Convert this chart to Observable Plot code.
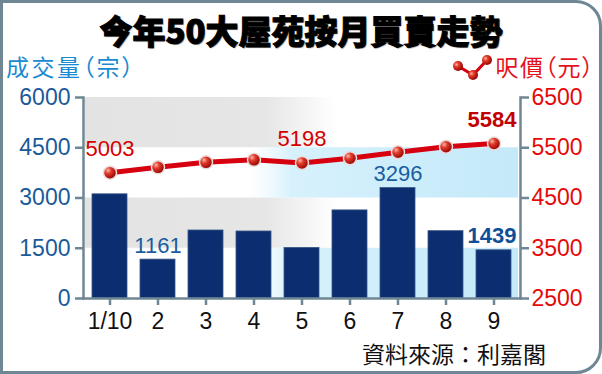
<!DOCTYPE html>
<html><head><meta charset="utf-8">
<script src="https://cdn.jsdelivr.net/npm/d3@7"></script>
<script src="https://cdn.jsdelivr.net/npm/@observablehq/plot@0.6"></script>
<style>
body{margin:0;background:#fff;}
#wrap{position:relative;width:602px;height:374px;overflow:hidden;background:#fff;}
#frame{position:absolute;left:0;top:0;width:602px;height:374px;box-sizing:border-box;border:3px solid #6f8795;border-radius:0 26px 26px 0;pointer-events:none;}
#chart{position:absolute;left:0;top:0;}
.t{position:absolute;white-space:nowrap;}
#title{left:0;width:602px;text-align:center;top:10px;font-family:"Noto Sans CJK TC",sans-serif;font-weight:900;font-size:33px;line-height:40px;color:#000;-webkit-text-stroke:1px #000;text-shadow:1px 1px 1px #999;}
#ly{left:6px;top:51px;font-family:"Noto Sans CJK TC",sans-serif;font-size:23px;line-height:30px;color:#1a8ad2;font-feature-settings:"palt";letter-spacing:2.5px;}
#ry{right:7px;top:51px;font-family:"Noto Sans CJK TC",sans-serif;font-size:23px;line-height:30px;color:#e5121b;font-feature-settings:"palt";letter-spacing:1.5px;}
#icon{position:absolute;left:450px;top:49px;}
#src{left:362px;top:338px;font-family:"Noto Sans CJK TC",sans-serif;font-size:23px;line-height:30px;color:#111;}
</style></head>
<body>
<div id="wrap">
  <div id="chart"></div>
  <div class="t" id="title">今年50大屋苑按月買賣走勢</div>
  <div class="t" id="ly">成交量（宗）</div>
  <svg id="icon" width="45" height="34" viewBox="0 0 45 34">
    <defs><radialGradient id="ib" cx="0.35" cy="0.35" r="0.7"><stop offset="0" stop-color="#ffb4a4"/><stop offset="0.35" stop-color="#e23a2a"/><stop offset="1" stop-color="#8c0000"/></radialGradient></defs>
    <polyline points="8,17 23,26 37,11" fill="none" stroke="#d7000f" stroke-width="3"/>
    <circle cx="8" cy="17" r="5" fill="url(#ib)"/>
    <circle cx="23" cy="26" r="5" fill="url(#ib)"/>
    <circle cx="37" cy="11" r="5" fill="url(#ib)"/>
  </svg>
  <div class="t" id="ry">呎價（元）</div>
  <div class="t" id="src">資料來源：利嘉閣</div>
  <div id="frame"></div>
</div>
<script>
const months = ["1/10","2","3","4","5","6","7","8","9"];
const volumes = [3110,1161,2030,2000,1510,2630,3296,2010,1439];
const prices = [5003,5110,5210,5260,5198,5290,5410,5520,5584];
const volTicks = [0,1500,3000,4500,6000];
const priceTicks = [2500,3500,4500,5500,6500];
const volLabelMonths = ["2","7"];
const priceLabelMonths = ["1/10","5"];
const boldMonths = ["9"];

const toVol = p => (p - 2500) * 1.5;
const data = months.map((m, i) => ({m, v: volumes[i], p: prices[i], py: toVol(prices[i])}));
const greyBands = [{a:4500,b:6000},{a:1500,b:3000}];
const blueBands = [{a:3000,b:4500},{a:0,b:1500}];

function defs() {
  const g = document.createElementNS("http://www.w3.org/2000/svg", "g");
  g.innerHTML = `<defs>
    <linearGradient id="gGrey" x1="0" x2="1" y1="0" y2="0">
      <stop offset="0" stop-color="#e3e3e3" stop-opacity="1"/>
      <stop offset="0.42" stop-color="#e6e6e6" stop-opacity="1"/>
      <stop offset="0.52" stop-color="#efefef" stop-opacity="0.6"/>
      <stop offset="0.6" stop-color="#ffffff" stop-opacity="0"/>
    </linearGradient>
    <linearGradient id="gBlue" x1="0" x2="1" y1="0" y2="0">
      <stop offset="0.38" stop-color="#e6f6fd" stop-opacity="0"/>
      <stop offset="0.48" stop-color="#d6f1fc" stop-opacity="1"/>
      <stop offset="1" stop-color="#c4e9f9" stop-opacity="1"/>
    </linearGradient>
    <radialGradient id="ball" cx="0.35" cy="0.32" r="0.72">
      <stop offset="0" stop-color="#ffb8a8"/>
      <stop offset="0.35" stop-color="#e33a2a"/>
      <stop offset="1" stop-color="#8a0000"/>
    </radialGradient>
  </defs>`;
  return g;
}

const axisColor = "#6f8795";
const numFont = '"Liberation Sans", Arial, sans-serif';

const chart = Plot.plot({
  width: 602, height: 374,
  marginLeft: 83, marginRight: 82, marginTop: 97, marginBottom: 76,
  style: {background: "transparent", fontFamily: numFont, overflow: "visible"},
  x: {type: "band", domain: months, paddingInner: 0.274, paddingOuter: 0.17, axis: null},
  y: {domain: [0, 6000], axis: null},
  marks: [
    defs,
    Plot.rect(greyBands, {y1: "a", y2: "b", fill: "url(#gGrey)", insetLeft: 2}),
    Plot.rect(blueBands, {y1: "a", y2: "b", fill: "url(#gBlue)", insetRight: 2}),
    Plot.barY(data, {x: "m", y: "v", fill: "#0b2e70", stroke: "#3c5686", strokeWidth: 0.8}),
    Plot.line(data, {x: "m", y: "py", stroke: "#d7000f", strokeWidth: 5}),
    Plot.dot(data, {x: "m", y: "py", r: 6.5, fill: "url(#ball)", stroke: "#eadada", strokeWidth: 1.5}),
    Plot.text(data.filter(d => priceLabelMonths.includes(d.m)), {
      x: "m", y: "py", text: d => String(d.p), dy: -24,
      fill: "#d40000", fontSize: 22, fontFamily: numFont
    }),
    Plot.text(data.filter(d => boldMonths.includes(d.m)), {
      x: "m", y: "py", text: d => String(d.p), dy: -24, dx: -2,
      fill: "#c20000", fontWeight: "bold", fontSize: 22, fontFamily: numFont
    }),
    Plot.text(data.filter(d => volLabelMonths.includes(d.m)), {
      x: "m", y: "v", text: d => String(d.v), dy: -14,
      fill: "#1a5e9f", fontSize: 22, fontFamily: numFont
    }),
    Plot.text(data.filter(d => boldMonths.includes(d.m)), {
      x: "m", y: "v", text: d => String(d.v), dy: -14, dx: -2,
      fill: "#0e4f98", fontWeight: "bold", fontSize: 22, fontFamily: numFont
    }),
    Plot.frame({anchor: "left", stroke: axisColor, strokeWidth: 2.5}),
    Plot.frame({anchor: "right", stroke: axisColor, strokeWidth: 2.5}),
    Plot.frame({anchor: "bottom", stroke: axisColor, strokeWidth: 2.5}),
    Plot.axisY(volTicks, {anchor: "left", tickSize: 8, tickPadding: 5, stroke: axisColor, strokeWidth: 2.5,
      fill: "#1a5a9a", fontSize: 23, fontFamily: numFont, label: null, tickFormat: v => String(v)}),
    Plot.axisY(priceTicks.map(toVol), {anchor: "right", tickSize: 8, tickPadding: 3, stroke: axisColor, strokeWidth: 2.5,
      fill: "#e50a0a", fontSize: 23, fontFamily: numFont, label: null,
      tickFormat: v => String(Math.round(v / 1.5 + 2500))}),
    Plot.axisX(months, {anchor: "bottom", tickSize: 7, tickPadding: 7, stroke: axisColor, strokeWidth: 2.5,
      fill: "#111", fontSize: 23, fontFamily: numFont, label: null})
  ]
});
document.getElementById("chart").appendChild(chart);
</script>
</body></html>
